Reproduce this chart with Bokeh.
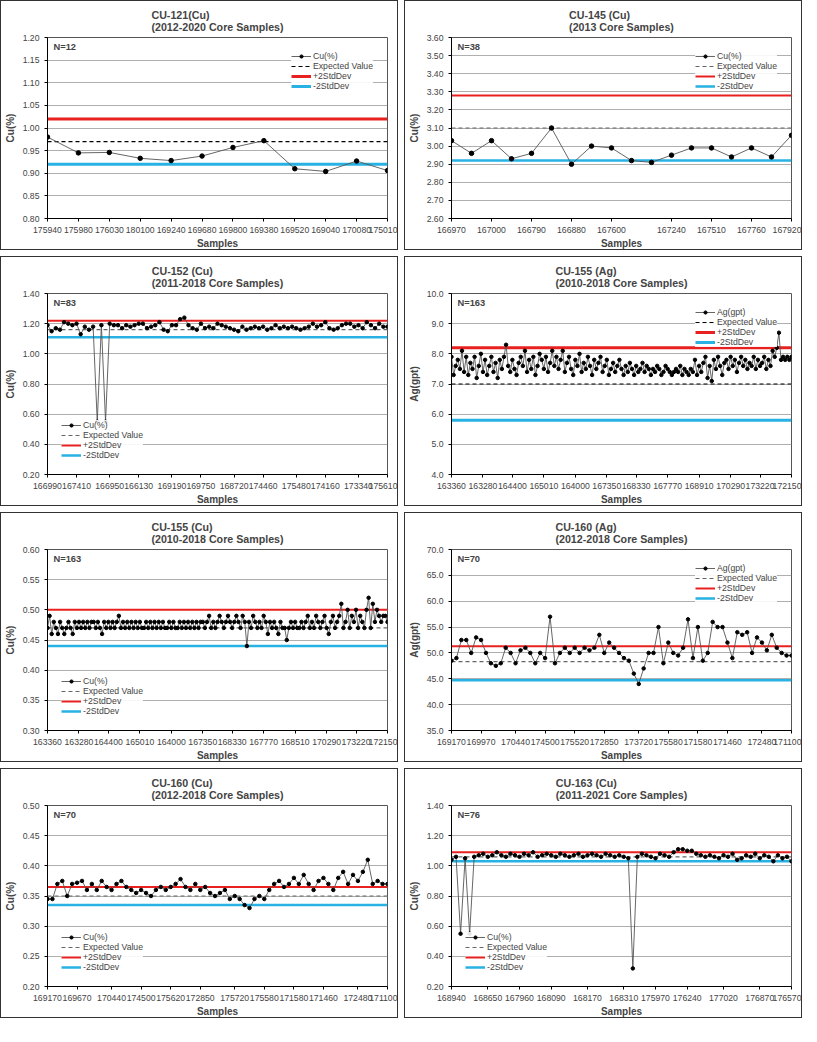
from bokeh.plotting import figure
from bokeh.models import Legend, LegendItem, Label, FixedTicker
from bokeh.layouts import column, row
from bokeh.embed import file_html
from bokeh.resources import INLINE

# ---------------- data ----------------
cu121_labels = ["175940","175980","176030","180100","169240","169680","169800","169380","169520","169040","170080","175010"]
cu121_vals = [0.98,0.945,0.946,0.933,0.928,0.938,0.957,0.972,0.910,0.904,0.927,0.906]

cu145_labels = ["166970","167000","166790","166880","167600","167240","167510","167760","167920"]
cu145_vals = [3.03,2.96,3.03,2.93,2.96,3.10,2.90,3.00,2.99,2.92,2.91,2.95,2.99,2.99,2.94,2.99,2.94,3.06]

cu152_labels = ["166990","167410","166950","166130","169190","169750","168720","174460","175480","174160","173340","175610"]
cu152_vals = [1.19,1.15,1.17,1.16,1.21,1.20,1.19,1.20,1.13,1.18,1.16,1.18,0.55,1.19,0.55,1.20,
              1.19,1.19,1.17,1.19,1.18,1.19,1.20,1.20,1.17,1.18,1.19,1.21,1.16,1.15,1.19,1.19,
              1.23,1.24,1.19,1.17,1.16,1.20,1.17,1.18,1.17,1.20,1.19,1.18,1.17,1.16,1.15,1.18,
              1.16,1.17,1.18,1.17,1.18,1.16,1.17,1.19,1.17,1.18,1.17,1.18,1.17,1.16,1.17,1.18,
              1.20,1.18,1.19,1.21,1.17,1.16,1.17,1.19,1.20,1.20,1.18,1.19,1.17,1.21,1.19,1.17,
              1.20,1.18,1.18]

cu155ag_labels = ["163360","163280","164400","165010","164000","167350","168330","167770","168910","170290","173220","172150"]
cu155ag_vals = [7.9,7.3,7.6,7.8,7.5,8.1,7.4,7.9,7.3,7.7,7.5,7.9,7.2,7.6,8.0,7.4,
                7.8,7.3,7.6,7.9,7.4,7.7,7.2,7.8,7.5,7.9,8.3,7.6,7.4,7.8,7.5,7.3,
                7.7,7.9,7.6,8.1,7.4,7.8,7.5,7.9,7.3,7.6,8.0,7.8,7.5,7.9,7.4,7.7,
                8.1,7.6,7.9,7.5,7.8,8.1,7.4,7.7,7.9,7.5,7.3,7.8,7.6,8.0,7.4,7.7,
                7.5,7.9,7.6,7.3,7.8,7.5,7.7,7.9,7.4,7.6,7.8,7.3,7.5,7.7,7.4,7.6,
                7.8,7.5,7.3,7.6,7.4,7.7,7.5,7.3,7.6,7.4,7.5,7.7,7.4,7.6,7.5,7.3,
                7.5,7.4,7.6,7.5,7.3,7.4,7.6,7.5,7.4,7.3,7.4,7.5,7.4,7.6,7.3,7.5,
                7.4,7.3,7.5,7.4,7.8,7.3,7.6,7.4,7.7,7.9,7.2,7.6,7.1,7.8,7.5,7.9,
                7.6,7.3,7.7,7.8,7.5,7.9,7.6,7.8,7.4,7.7,7.9,7.6,7.8,7.5,7.7,7.6,
                7.9,7.5,7.8,7.6,7.7,7.9,7.5,7.8,7.6,8.1,7.9,8.2,8.7,7.8,7.9,7.8,7.9,7.8,7.9]

cu155cu_labels = ["163360","163280","164400","165010","164000","167350","168330","167770","168510","170290","173220","172150"]
cu155cu_vals = [0.47,0.49,0.46,0.48,0.47,0.46,0.48,0.47,0.46,0.47,0.48,0.47,0.46,0.48,0.47,0.48,
                0.47,0.48,0.47,0.48,0.47,0.48,0.48,0.47,0.48,0.47,0.46,0.48,0.47,0.48,0.47,0.48,
                0.47,0.48,0.49,0.47,0.48,0.47,0.48,0.47,0.48,0.47,0.48,0.47,0.48,0.47,0.47,0.48,
                0.47,0.48,0.47,0.48,0.47,0.48,0.47,0.48,0.47,0.47,0.48,0.47,0.48,0.47,0.47,0.48,
                0.47,0.48,0.47,0.48,0.47,0.48,0.47,0.48,0.47,0.48,0.48,0.47,0.48,0.49,0.47,0.48,
                0.47,0.48,0.49,0.48,0.47,0.48,0.49,0.48,0.47,0.48,0.49,0.48,0.47,0.49,0.48,0.44,
                0.48,0.47,0.49,0.48,0.47,0.48,0.47,0.49,0.48,0.46,0.48,0.47,0.48,0.47,0.46,0.48,
                0.47,0.47,0.45,0.47,0.48,0.47,0.48,0.47,0.47,0.48,0.47,0.48,0.49,0.47,0.48,0.47,
                0.49,0.48,0.47,0.48,0.49,0.47,0.46,0.48,0.49,0.47,0.48,0.49,0.51,0.47,0.48,0.50,
                0.47,0.49,0.48,0.50,0.47,0.49,0.48,0.47,0.50,0.52,0.47,0.51,0.48,0.50,0.49,0.48,0.49,0.49,0.48]

cu160ag_labels = ["169170","169970","170440","174500","175520","172850","173720","175580","171580","171460","172480","171100"]
cu160ag_vals = [48.5,49.0,52.5,52.5,50.0,53.0,52.5,50.0,48.0,47.5,48.0,51.0,50.0,48.0,50.5,51.0,
                50.0,48.0,50.0,49.0,57.0,48.0,50.0,51.0,50.0,51.0,50.0,51.0,50.5,51.0,53.5,50.0,
                52.0,51.0,50.0,49.0,48.5,46.0,44.0,47.0,50.0,50.0,55.0,48.0,52.0,50.0,49.5,51.0,
                56.5,49.0,55.0,48.5,50.0,56.0,55.0,55.0,52.0,49.0,54.0,53.5,54.0,50.0,53.0,52.0,
                50.5,53.5,51.0,50.0,49.5,49.5]

cu160cu_labels = ["169170","169670","170440","174500","175620","172850","175720","175580","171580","171460","172480","171100"]
cu160cu_vals = [0.345,0.345,0.37,0.375,0.35,0.37,0.372,0.375,0.36,0.37,0.36,0.375,0.365,0.36,0.37,0.375,
                0.365,0.36,0.355,0.36,0.355,0.35,0.36,0.365,0.36,0.365,0.37,0.378,0.365,0.36,0.37,0.36,
                0.365,0.355,0.35,0.355,0.36,0.345,0.35,0.345,0.335,0.33,0.345,0.35,0.345,0.36,0.37,0.375,
                0.365,0.37,0.38,0.37,0.385,0.37,0.36,0.375,0.38,0.37,0.36,0.38,0.39,0.37,0.385,0.375,
                0.39,0.41,0.37,0.375,0.37,0.37]

cu163_labels = ["168940","168650","167960","168090","168170","168310","175970","176240","177020","176870","176570"]
cu163_vals = [1.04,1.06,0.55,1.05,0.55,1.06,1.07,1.08,1.06,1.07,1.09,1.07,1.06,1.08,1.07,1.06,
              1.08,1.07,1.09,1.06,1.07,1.08,1.07,1.06,1.08,1.07,1.06,1.07,1.08,1.06,1.07,1.08,
              1.07,1.06,1.08,1.07,1.06,1.07,1.06,1.05,0.32,1.06,1.08,1.07,1.06,1.05,1.08,1.07,
              1.06,1.09,1.11,1.11,1.10,1.10,1.08,1.07,1.06,1.07,1.06,1.05,1.07,1.06,1.08,1.04,
              1.05,1.07,1.06,1.08,1.05,1.07,1.06,1.03,1.07,1.05,1.06,1.03]

panels = [
    dict(t1="CU-121(Cu)", t2="(2012-2020 Core Samples)", n="N=12", yl="Cu(%)", ser="Cu(%)",
         vals=cu121_vals, labels=cu121_labels, ymin=0.80, ymax=1.20, step=0.05, fmt="{:.2f}",
         exp=0.97, hi=1.02, lo=0.92, leg="top_right", lblack=True),
    dict(t1="CU-145 (Cu)", t2="(2013 Core Samples)", n="N=38", yl="Cu(%)", ser="Cu(%)",
         vals=cu145_vals, labels=cu145_labels, ymin=2.60, ymax=3.60, step=0.10, fmt="{:.2f}",
         exp=3.10, hi=3.28, lo=2.92, leg="top_right", lblack=False),
    dict(t1="CU-152 (Cu)", t2="(2011-2018 Core Samples)", n="N=83", yl="Cu(%)", ser="Cu(%)",
         vals=cu152_vals, labels=cu152_labels, ymin=0.20, ymax=1.40, step=0.20, fmt="{:.2f}",
         exp=1.16, hi=1.22, lo=1.11, leg="bottom_left", lblack=False),
    dict(t1="CU-155 (Ag)", t2="(2010-2018 Core Samples)", n="N=163", yl="Ag(gpt)", ser="Ag(gpt)",
         vals=cu155ag_vals, labels=cu155ag_labels, ymin=4.0, ymax=10.0, step=1.0, fmt="{:.1f}",
         exp=7.0, hi=8.2, lo=5.8, leg="top_right", lblack=True),
    dict(t1="CU-155 (Cu)", t2="(2010-2018 Core Samples)", n="N=163", yl="Cu(%)", ser="Cu(%)",
         vals=cu155cu_vals, labels=cu155cu_labels, ymin=0.30, ymax=0.60, step=0.05, fmt="{:.2f}",
         exp=0.47, hi=0.50, lo=0.44, leg="bottom_left", lblack=False),
    dict(t1="CU-160 (Ag)", t2="(2012-2018 Core Samples)", n="N=70", yl="Ag(gpt)", ser="Ag(gpt)",
         vals=cu160ag_vals, labels=cu160ag_labels, ymin=35.0, ymax=70.0, step=5.0, fmt="{:.1f}",
         exp=48.3, hi=51.3, lo=44.7, leg="top_right", lblack=False),
    dict(t1="CU-160 (Cu)", t2="(2012-2018 Core Samples)", n="N=70", yl="Cu(%)", ser="Cu(%)",
         vals=cu160cu_vals, labels=cu160cu_labels, ymin=0.20, ymax=0.50, step=0.05, fmt="{:.2f}",
         exp=0.35, hi=0.365, lo=0.335, leg="bottom_left", lblack=False),
    dict(t1="CU-163 (Cu)", t2="(2011-2021 Core Samples)", n="N=76", yl="Cu(%)", ser="Cu(%)",
         vals=cu163_vals, labels=cu163_labels, ymin=0.20, ymax=1.40, step=0.20, fmt="{:.2f}",
         exp=1.06, hi=1.09, lo=1.03, leg="bottom_left", lblack=False),
]

FONT = "Liberation Sans"
RED = "#e8201f"
CYAN = "#27b2e3"

def make(d):
    vals = d["vals"]; n = len(vals)
    xs = list(range(n))
    p = figure(width=398, height=250, output_backend="svg", toolbar_location=None,
               x_range=(0, n - 1), y_range=(d["ymin"], d["ymax"]),
               min_border_left=8, min_border_right=12, min_border_top=6, min_border_bottom=6)
    p.title.text = d["t1"] + "\n" + d["t2"]
    p.title.align = "center"
    p.title.text_font = FONT
    p.title.text_font_size = "8pt"
    p.title.text_font_style = "bold"
    p.outline_line_color = "#555555"
    p.styles = {"border": "1px solid #333"}
    p.xgrid.visible = False
    p.ygrid.grid_line_color = "#9a9a9a"
    p.ygrid.grid_line_width = 0.8
    nticks = round((d["ymax"] - d["ymin"]) / d["step"])
    ticks = [round(d["ymin"] + i * d["step"], 4) for i in range(nticks + 1)]
    p.yaxis.ticker = FixedTicker(ticks=ticks)
    p.yaxis.major_label_overrides = {t: d["fmt"].format(t) for t in ticks}
    m = len(d["labels"])
    step = (n - 1) / (m - 1) if m > 1 else 1
    xt = [round(i * step) for i in range(m)]
    p.xaxis.ticker = FixedTicker(ticks=xt)
    p.xaxis.major_label_overrides = {x: lab for x, lab in zip(xt, d["labels"])}
    for ax in (p.xaxis[0], p.yaxis[0]):
        ax.major_label_text_font = FONT
        ax.major_label_text_font_size = "6.5pt"
        ax.axis_label_text_font = FONT
        ax.axis_label_text_font_size = "7.5pt"
        ax.axis_label_text_font_style = "bold"
        ax.minor_tick_line_color = None
        ax.major_tick_out = 3
        ax.major_tick_in = 0
    p.xaxis.axis_label = "Samples"
    p.yaxis.axis_label = d["yl"]
    p.xaxis.axis_label_standoff = 2
    p.yaxis.axis_label_standoff = 4

    r_hi = p.line([0, n - 1], [d["hi"], d["hi"]], color=RED, line_width=3 if d["lblack"] else 2)
    r_lo = p.line([0, n - 1], [d["lo"], d["lo"]], color=CYAN, line_width=3 if d["lblack"] else 2.5)
    r_exp = p.line([0, n - 1], [d["exp"], d["exp"]], color="black" if d["lblack"] else "#666666",
                   line_dash="4 3", line_width=1.2)
    r_l = p.line(xs, vals, color="#555555", line_width=0.9)
    r_s = p.scatter(xs, vals, size=4.5 if n < 40 else 3.5, color="black")

    leg = Legend(items=[LegendItem(label=d["ser"], renderers=[r_l, r_s]),
                        LegendItem(label="Expected Value", renderers=[r_exp]),
                        LegendItem(label="+2StdDev", renderers=[r_hi]),
                        LegendItem(label="-2StdDev", renderers=[r_lo])],
                 location=d["leg"], background_fill_color="white", background_fill_alpha=0.9,
                 border_line_color=None, label_text_font=FONT, label_text_font_size="6.5pt",
                 glyph_width=20, glyph_height=8, label_height=8, spacing=0, padding=4,
                 margin=14, label_standoff=2)
    p.add_layout(leg)
    p.add_layout(Label(x=0, y=d["ymax"] - (d["ymax"] - d["ymin"]) * 0.08, x_offset=6,
                       text=d["n"], text_font=FONT, text_font_size="7pt", text_font_style="bold"))
    return p

figs = [make(d) for d in panels]
rows = [row(figs[i], figs[i + 1], spacing=6) for i in range(0, 8, 2)]
layout = column(*rows, spacing=6)
open("out.html", "w").write(file_html(layout, INLINE))
